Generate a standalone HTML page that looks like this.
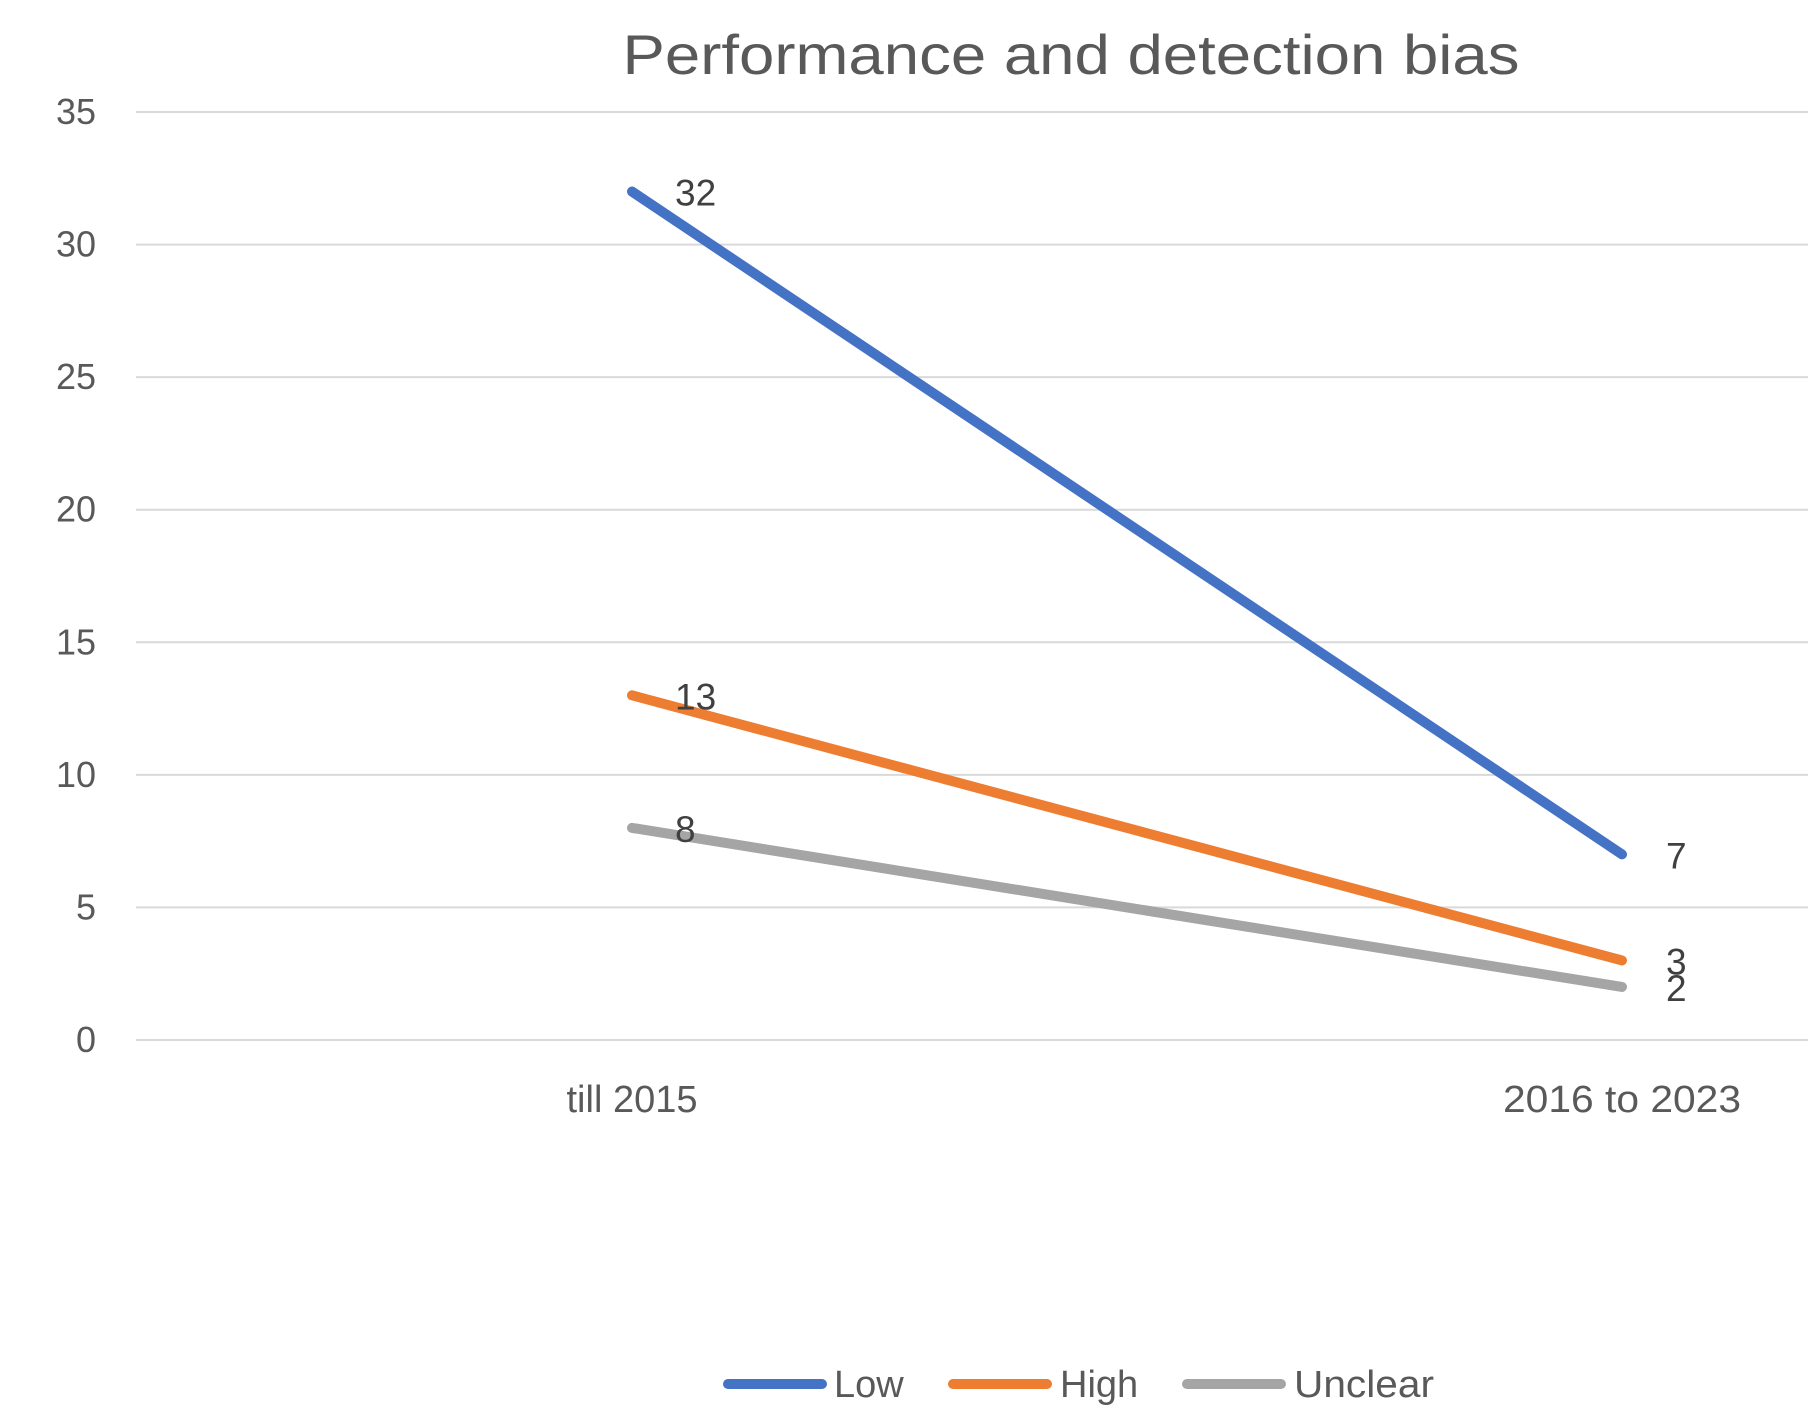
<!DOCTYPE html>
<html><head><meta charset="utf-8"><style>
html,body{margin:0;padding:0;background:#fff;}
svg{display:block;font-family:"Liberation Sans",sans-serif;}
</style></head><body>
<svg id="chart" width="1808" height="1426" viewBox="0 0 1808 1426" xmlns="http://www.w3.org/2000/svg">
<text x="1071" y="74" text-anchor="middle" font-size="56" fill="#595959" textLength="897" lengthAdjust="spacingAndGlyphs">Performance and detection bias</text>
<g id="grid"></g><g id="yticks"></g><g id="xticks"></g><g id="series"></g><g id="labels"></g>
<g>
<g><line x1="728" y1="1384" x2="822" y2="1384" stroke="#4472C4" stroke-width="10" stroke-linecap="round"/><text x="834" y="1397" font-size="38" fill="#595959">Low</text></g>
<g><line x1="953" y1="1384" x2="1047" y2="1384" stroke="#ED7D31" stroke-width="10" stroke-linecap="round"/><text x="1060" y="1397" font-size="38" fill="#595959">High</text></g>
<g><line x1="1187" y1="1384" x2="1281" y2="1384" stroke="#A5A5A5" stroke-width="10" stroke-linecap="round"/><text x="1294" y="1397" font-size="38" fill="#595959" textLength="140" lengthAdjust="spacingAndGlyphs">Unclear</text></g>
</g>
</svg>
<script>
const categories = ["till 2015", "2016 to 2023"];
const lowValues = [32, 7];
const highValues = [13, 3];
const unclearValues = [8, 2];
const yTicks = [0, 5, 10, 15, 20, 25, 30, 35];

const NS = "http://www.w3.org/2000/svg";
const y = v => 1040 - v * (928 / 35);
const x = i => 632 + i * 990;
function mk(tag, attrs, parent) {
  const e = document.createElementNS(NS, tag);
  for (const k in attrs) e.setAttribute(k, attrs[k]);
  parent.appendChild(e);
  return e;
}
const grid = document.getElementById('grid');
const yt = document.getElementById('yticks');
yTicks.forEach(t => {
  const l = mk('line', {x1: 136, x2: 1808, y1: y(t), y2: y(t), stroke: '#D9D9D9', 'stroke-width': 2}, grid);
  
  
  const tx = mk('text', {x: 96, y: y(t) + 12, 'text-anchor': 'end', 'font-size': 36, fill: '#595959'}, yt);
  tx.textContent = t;
  
  
});
const xt = document.getElementById('xticks');
categories.forEach((c, i) => {
  const attrs = {x: x(i), y: 1112, 'text-anchor': 'middle', 'font-size': 38, fill: '#595959'};
  if (i === 1) { attrs.textLength = 238; attrs.lengthAdjust = 'spacingAndGlyphs'; }
  const tx = mk('text', attrs, xt);
  tx.textContent = c;
  
  
});
const series = [
  {name: 'low', vals: lowValues, color: '#4472C4'},
  {name: 'high', vals: highValues, color: '#ED7D31'},
  {name: 'unclear', vals: unclearValues, color: '#A5A5A5'}
];
const sg = document.getElementById('series');
const lg = document.getElementById('labels');
series.forEach(s => {
  const pts = s.vals.map((v, i) => x(i) + ',' + y(v)).join(' ');
  const p = mk('polyline', {points: pts, fill: 'none', stroke: s.color, 'stroke-width': 10, 'stroke-linecap': 'round', 'stroke-linejoin': 'round'}, sg);
  
  
  s.vals.forEach((v, i) => {
    const t = mk('text', {x: x(i) + (i === 0 ? 43 : 44), y: y(v) + 14, 'font-size': 37, fill: '#404040'}, lg);
    t.textContent = v;
    
    
  });
});
</script>
</body></html>
